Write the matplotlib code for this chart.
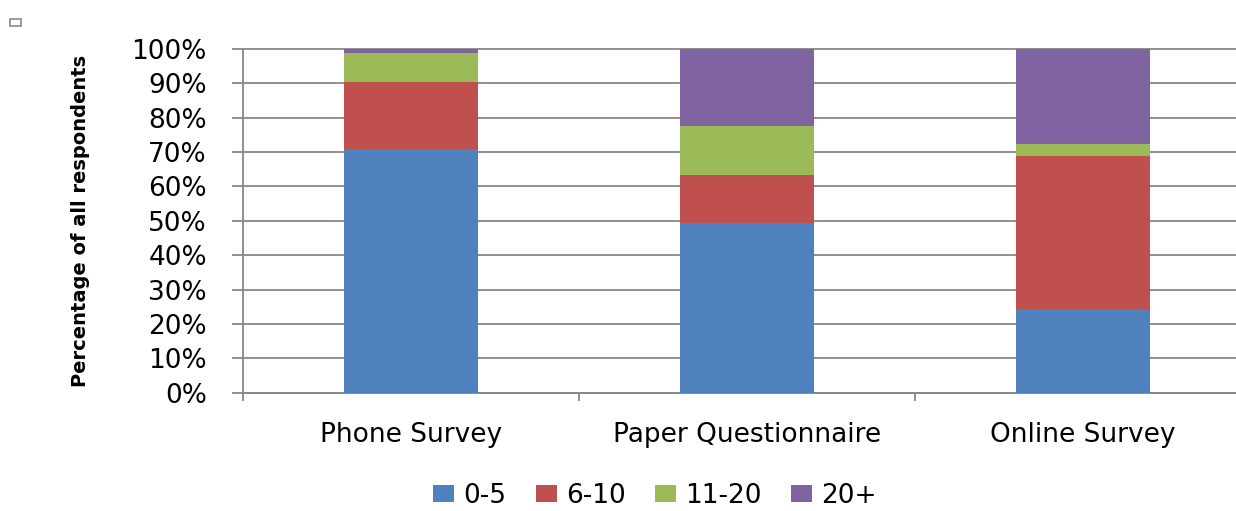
import matplotlib
matplotlib.use("Agg")
import matplotlib.pyplot as plt
from matplotlib.patches import Rectangle
import numpy as np

categories = ["Phone Survey", "Paper Questionnaire", "Online Survey"]
groups = ["0-5", "6-10", "11-20", "20+"]
share_0_5 = [70.9, 49.3, 24.3]
share_6_10 = [19.6, 14.0, 44.7]
share_11_20 = [8.2, 14.3, 3.4]
share_20_plus = [1.3, 22.4, 27.6]
colors = ["#4F81BD", "#C0504D", "#9BBB59", "#8064A2"]

series = [share_0_5, share_6_10, share_11_20, share_20_plus]

fig = plt.figure(figsize=(12.36, 5.11), dpi=100)
ax = fig.add_axes([243/1236, 1 - 392.7/511, 1008/1236, 343.7/511])

x = np.arange(len(categories))
bottom = np.zeros(len(categories))
for vals, lab, col in zip(series, groups, colors):
    v = np.array(vals) / 100.0
    ax.bar(x, v, 0.4, bottom=bottom, color=col, label=lab, zorder=3)
    bottom += v

grid_col = "#878787"
ax.set_xlim(-0.5, 2.5)
ax.set_ylim(0, 1)
ax.set_yticks(np.arange(0, 1.01, 0.1))
ax.set_yticklabels([f"{int(round(t*100))}%" for t in np.arange(0, 1.01, 0.1)])
ax.yaxis.grid(True, color=grid_col, linewidth=1.3, zorder=0)
for gl in ax.get_ygridlines():
    gl.set_clip_on(False)
ax.set_axisbelow(True)

ax.set_xticks(x)
ax.set_xticklabels(categories)
ax.set_xticks([-0.5, 0.5, 1.5], minor=True)
ax.tick_params(axis="x", which="major", length=0, pad=21, labelsize=19)
ax.tick_params(axis="x", which="minor", length=6, width=1.3, color=grid_col, direction="out")
ax.tick_params(axis="y", length=8, width=1.3, color=grid_col, direction="out", pad=18, labelsize=19)

for s in ["top", "right"]:
    ax.spines[s].set_visible(False)
for s in ["left", "bottom"]:
    ax.spines[s].set_color(grid_col)
    ax.spines[s].set_linewidth(1.3)

ax.set_ylabel("Percentage of all respondents", fontsize=14, fontweight="bold",
              labelpad=30)

fig.legend(loc="center", bbox_to_anchor=(655/1236, 0.03), ncol=4, frameon=False,
           fontsize=19, handlelength=0.8, handleheight=0.58, handletextpad=0.35,
           columnspacing=1.1, borderpad=0.1)

# small marker box at top left
fig.patches.append(Rectangle((10/1236, 1 - 26/511), 11/1236, 7/511,
                             transform=fig.transFigure, fill=False,
                             edgecolor="#8a8a8a", linewidth=1.2))

fig.savefig("out.png", dpi=100)
